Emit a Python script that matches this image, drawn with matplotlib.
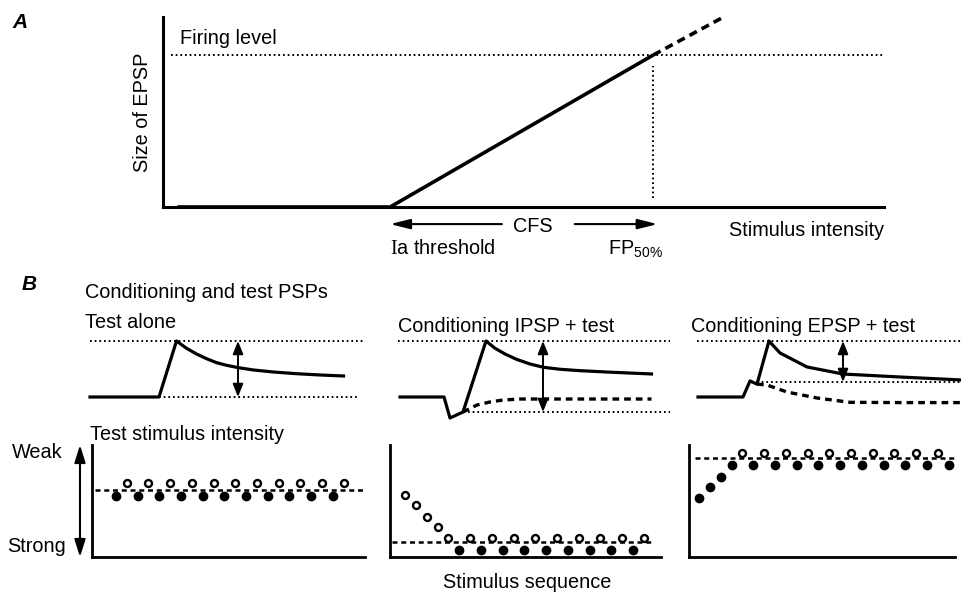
import numpy as np
import matplotlib.pyplot as plt

plt.rcParams['font.family'] = ['Liberation Sans', 'DejaVu Sans']
plt.rcParams['mathtext.fontset'] = 'custom'
plt.rcParams['mathtext.rm'] = 'Liberation Serif'

W, H = 961, 593
FS = 14.3

# ---- A: size of EPSP against stimulus intensity (fractions of the axes)
ramp_intensity = [0.02, 0.315, 0.68]
ramp_size = [0.0, 0.0, 0.80]
extrap_intensity = [0.68, 0.78]
extrap_size = [0.80, 1.005]
firing_level = 0.80
ia_threshold = 0.315
fp50 = 0.68

# ---- B top: PSP traces (time, voltage in arbitrary units; baseline = 0, test peak = 10)
alone_t = [1, 14.8, 18.3, 20.3, 22.3, 24.3, 26.3, 28.3, 30.7, 33.7, 37.7, 42.3, 47, 51.7]
alone_v = [0, 0, 10, 8.70, 7.68, 6.84, 6.13, 5.66, 5.23, 4.82, 4.46, 4.16, 3.93, 3.75]

ipsp_test_t = [3, 11.8, 13, 15.6, 20.2, 22, 24, 26.3, 29, 31.7, 35, 39, 44.3, 53.3]
ipsp_test_v = [0, 0, -3.75, -2.68, 10, 8.70, 7.68, 6.73, 5.89, 5.30, 4.95, 4.70, 4.46, 4.11]
ipsp_t = [15.6, 18.4, 21, 23.6, 27, 31.6, 53.3]
ipsp_v = [-2.68, -1.43, -0.89, -0.54, -0.36, -0.36, -0.36]
ipsp_trough = -2.68

epsp_test_t = [2.6, 11.6, 13, 14.4, 16.8, 19, 24.4, 31.6, 43, 55.2]
epsp_test_v = [0, 0, 2.86, 2.3, 10, 7.86, 5.36, 4.1, 3.57, 3.04]
epsp_t = [14.4, 16.4, 20.4, 26.4, 33, 43, 55.2]
epsp_v = [2.3, 2.14, 0.89, -0.18, -0.95, -1.0, -1.0]
epsp_level = 2.68
test_peak = 10

# ---- B bottom: test stimulus intensity along the stimulus sequence (0 strong .. 10 weak)
alone_open_n = [2, 4, 6, 8, 10, 12, 14, 16, 18, 20, 22]
alone_open_y = [6.6, 6.6, 6.6, 6.6, 6.6, 6.6, 6.6, 6.6, 6.6, 6.6, 6.6]
alone_fill_n = [1, 3, 5, 7, 9, 11, 13, 15, 17, 19, 21]
alone_fill_y = [5.45, 5.45, 5.45, 5.45, 5.45, 5.45, 5.45, 5.45, 5.45, 5.45, 5.45]
alone_ref = 6.0

ipsp_open_n = [1, 2, 3, 4, 5, 7, 9, 11, 13, 15, 17, 19, 21, 23]
ipsp_open_y = [5.54, 4.64, 3.57, 2.68, 1.7, 1.7, 1.7, 1.7, 1.7, 1.7, 1.7, 1.7, 1.7, 1.7]
ipsp_fill_n = [6, 8, 10, 12, 14, 16, 18, 20, 22]
ipsp_fill_y = [0.63, 0.63, 0.63, 0.63, 0.63, 0.63, 0.63, 0.63, 0.63]
ipsp_ref = 1.34

epsp_open_n = [5, 7, 9, 11, 13, 15, 17, 19, 21, 23]
epsp_open_y = [9.29, 9.29, 9.29, 9.29, 9.29, 9.29, 9.29, 9.29, 9.29, 9.29]
epsp_fill_n = [1, 2, 3, 4, 6, 8, 10, 12, 14, 16, 18, 20, 22, 24]
epsp_fill_y = [5.27, 6.25, 7.14, 8.21, 8.21, 8.21, 8.21, 8.21, 8.21, 8.21, 8.21, 8.21, 8.21, 8.21]
epsp_ref = 8.84

fig = plt.figure(figsize=(W / 100, H / 100), dpi=100)

DOT = dict(color='k', lw=1.4, ls=(0, (0.9, 1.5)))
TRACE = dict(color='k', lw=2.3, solid_joinstyle='round')


def ftext(x, y, s, **kw):
    kw.setdefault('fontsize', FS)
    kw.setdefault('va', 'center')
    fig.text(x / W, 1 - y / H, s, **kw)


def box(x0, y0, x1, y1):
    # pixel box (top-left origin) -> figure fraction rect
    return [x0 / W, 1 - y1 / H, (x1 - x0) / W, (y1 - y0) / H]


# ================= A
axA = fig.add_axes(box(163, 17, 884, 207))
axA.set_xlim(0, 1)
axA.set_ylim(0, 1)
axA.set_xticks([])
axA.set_yticks([])
axA.spines['top'].set_visible(False)
axA.spines['right'].set_visible(False)
axA.spines['left'].set_linewidth(2.2)
axA.spines['bottom'].set_linewidth(2.2)
axA.patch.set_alpha(0)

axA.plot([0.011, 1.0], [firing_level, firing_level], **DOT)
axA.plot([fp50, fp50], [0.05, 0.74], **DOT)
axA.plot(ramp_intensity, ramp_size, color='k', lw=2.6, clip_on=False,
         solid_capstyle='butt')
axA.plot(extrap_intensity, extrap_size, color='k', lw=2.6, ls=(0, (2.3, 1.5)),
         clip_on=False)

arr = dict(arrowstyle='-|>,head_length=0.8,head_width=0.2', color='k', lw=1.5,
           shrinkA=0, shrinkB=0, mutation_scale=15)
axA.annotate('', xy=(ia_threshold, -0.09), xytext=(0.47, -0.09), arrowprops=arr,
             annotation_clip=False)
axA.annotate('', xy=(fp50 + 0.006, -0.09), xytext=(0.571, -0.09), arrowprops=arr,
             annotation_clip=False)

ftext(12, 23, 'A', fontstyle='italic', fontweight='bold', fontsize=15)
ftext(180, 39, 'Firing level')
ftext(142, 112, 'Size of EPSP', rotation=90, ha='center')
ftext(533, 227, 'CFS', ha='center')
ftext(390, 248, r'$\mathrm{I}$a threshold')
fig.text(608 / W, 1 - 255 / H, r'FP$_{\mathregular{50\%}}$', fontsize=FS, va='baseline')
ftext(884, 230, 'Stimulus intensity', ha='right')

# ================= B, PSPs
ftext(22, 285, 'B', fontstyle='italic', fontweight='bold', fontsize=15)
ftext(85, 293, 'Conditioning and test PSPs')
ftext(85, 323, 'Test alone')
ftext(398, 327, 'Conditioning IPSP + test')
ftext(691, 327, 'Conditioning EPSP + test')

darr = dict(arrowstyle='<|-|>,head_length=0.55,head_width=0.22', color='k', lw=1.4,
            shrinkA=0, shrinkB=0, mutation_scale=14)


def psp_axes(x0, width, tmax):
    ax = fig.add_axes(box(x0, 330, x0 + width, 425))
    ax.set_xlim(0, tmax)
    ax.set_ylim(-5, 11.96)
    ax.axis('off')
    return ax


ax1 = psp_axes(85, 285, 57)
ax1.plot([1, 56], [test_peak, test_peak], **DOT)
ax1.plot([14.8, 54.4], [0, 0], **DOT)
ax1.plot(alone_t, alone_v, **TRACE)
ax1.annotate('', xy=(30.6, test_peak), xytext=(30.6, 0), arrowprops=darr)

ax2 = psp_axes(385, 285, 57)
ax2.plot([2.6, 57], [test_peak, test_peak], **DOT)
ax2.plot([16.6, 57], [ipsp_trough, ipsp_trough], **DOT)
ax2.plot(ipsp_test_t, ipsp_test_v, **TRACE)
ax2.plot(ipsp_t, ipsp_v, color='k', lw=2.4, ls=(0, (2.0, 1.5)))
ax2.annotate('', xy=(31.6, test_peak), xytext=(31.6, ipsp_trough), arrowprops=darr)

ax3 = psp_axes(685, 276, 55.2)
ax3.plot([2.4, 55.2], [test_peak, test_peak], **DOT)
ax3.plot([14.4, 55.2], [epsp_level, epsp_level], **DOT)
ax3.plot(epsp_test_t, epsp_test_v, **TRACE)
ax3.plot(epsp_t, epsp_v, color='k', lw=2.4, ls=(0, (2.0, 1.5)))
ax3.annotate('', xy=(31.6, test_peak), xytext=(31.6, epsp_level), arrowprops=darr)

# ================= B, stimulus intensity
ftext(90, 435, 'Test stimulus intensity')
ftext(12, 453, 'Weak')
ftext(7, 547, 'Strong')
ftext(527, 583, 'Stimulus sequence', ha='center')

PX = 10.85


def seq_axes(x0, x1):
    ax = fig.add_axes(box(x0, 445, x1, 557))
    ax.set_xlim(0, (x1 - x0) / PX)
    ax.set_ylim(0, 10)
    ax.set_xticks([])
    ax.set_yticks([])
    ax.spines['top'].set_visible(False)
    ax.spines['right'].set_visible(False)
    ax.spines['left'].set_linewidth(2.0)
    ax.spines['bottom'].set_linewidth(2.0)
    ax.patch.set_alpha(0)
    return ax


def seq_plot(ax, first, span, ref, open_n, open_y, fill_n, fill_y):
    ax.plot(span, [ref, ref], color='k', lw=1.8, ls=(0, (2.0, 1.5)), zorder=1)
    ax.plot(np.array(fill_n) - 1 + first, fill_y, 'o', color='k', ms=6.0, zorder=3,
            clip_on=False)
    ax.plot(np.array(open_n) - 1 + first, open_y, 'o', mfc='white', mec='k', mew=1.7,
            ms=5.0, zorder=3, clip_on=False)


b1 = seq_axes(92, 365)
seq_plot(b1, 2.2, [0.28, 24.98], alone_ref, alone_open_n, alone_open_y,
         alone_fill_n, alone_fill_y)
b1.annotate('', xy=(-0.044, 1.0), xytext=(-0.044, 0.0), xycoords='axes fraction',
            arrowprops=dict(arrowstyle='<|-|>,head_length=0.7,head_width=0.22',
                            color='k', lw=1.5, shrinkA=0, shrinkB=0, mutation_scale=15),
            annotation_clip=False)

b2 = seq_axes(390, 661)
seq_plot(b2, 1.39, [0.18, 24.3], ipsp_ref, ipsp_open_n, ipsp_open_y,
         ipsp_fill_n, ipsp_fill_y)

b3 = seq_axes(689, 955)
seq_plot(b3, 0.93, [0.55, 24.5], epsp_ref, epsp_open_n, epsp_open_y,
         epsp_fill_n, epsp_fill_y)

fig.savefig('out.png', dpi=100)
